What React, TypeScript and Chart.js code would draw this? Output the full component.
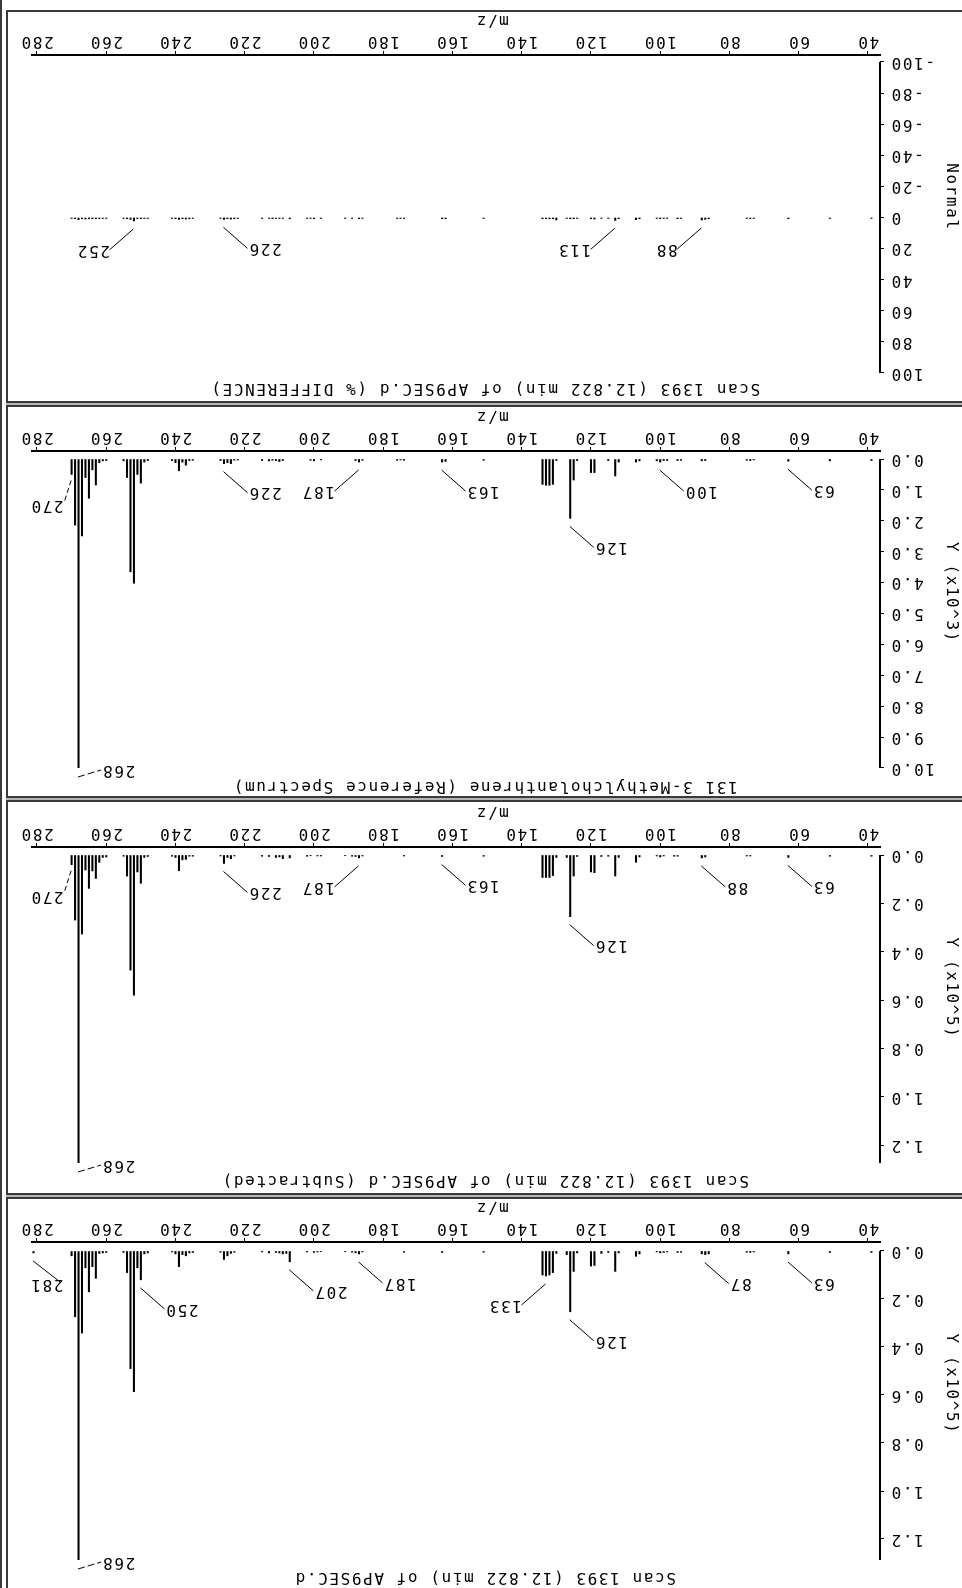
import React, { useEffect, useRef } from 'react';
import { Chart, registerables } from 'chart.js';

Chart.register(...registerables);

// ---------------- data ----------------
const xTicks = [40, 60, 80, 100, 120, 140, 160, 180, 200, 220, 240, 260, 280];
const X_MIN = 36.53;
const X_MAX = 281.44;

// Scan 1393 (raw)
const rawMz = [
  39, 51, 63, 73, 74, 75, 86, 87, 88, 94,
  95, 98, 99, 100, 101, 106, 107, 112, 113, 115,
  117, 119, 120, 124, 125, 126, 127, 130, 131, 132,
  133, 134, 151, 163, 174, 186, 187, 188, 189, 191,
  198, 199, 200, 202, 207, 208, 209, 210, 211, 213,
  215, 223, 224, 225, 226, 227, 235, 236, 237, 238,
  239, 240, 241, 248, 249, 250, 251, 252, 253, 254,
  255, 260, 261, 262, 263, 264, 265, 266, 267, 268,
  269, 270, 281,
];
const rawAb = [
  600, 600, 1200, 400, 600, 500, 1200, 1500, 1200, 500,
  600, 400, 600, 800, 400, 1200, 2200, 800, 8500, 600,
  1000, 6000, 6300, 800, 8500, 25300, 1500, 1000, 9000, 10000,
  10400, 10000, 500, 600, 500, 400, 1200, 800, 500, 300,
  300, 400, 600, 400, 4500, 1000, 1200, 800, 600, 800,
  400, 500, 1000, 2000, 3500, 500, 600, 800, 2000, 1500,
  6500, 1200, 400, 800, 1200, 12000, 7000, 58600, 49000, 9000,
  600, 600, 800, 1000, 11400, 6500, 17000, 7000, 34200, 128750,
  27400, 2000, 800,
];
const rawTicks = [0, 20000, 40000, 60000, 80000, 100000, 120000];
const rawLabels = [[63, 'L'], [87, 'L'], [126, 'L'], [133, 'R'], [187, 'L'], [207, 'L'], [250, 'L'], [268, 'B'], [281, 'E']];

// Subtracted
const subMz = [
  39, 51, 63, 74, 75, 87, 88, 95, 96, 99,
  100, 101, 106, 107, 112, 113, 115, 117, 119, 120,
  124, 125, 126, 127, 130, 131, 132, 133, 134, 151,
  163, 174, 186, 187, 188, 189, 191, 198, 199, 201,
  202, 207, 209, 210, 211, 213, 215, 223, 224, 225,
  226, 227, 235, 236, 237, 238, 239, 240, 241, 248,
  249, 250, 251, 252, 253, 254, 255, 260, 261, 262,
  263, 264, 265, 266, 267, 268, 269, 270,
];
const subAb = [
  500, 500, 1000, 400, 400, 800, 1200, 500, 500, 400,
  800, 400, 800, 3000, 1000, 8700, 500, 600, 7300, 7000,
  600, 8700, 25500, 1000, 1000, 8500, 9300, 9300, 9300, 500,
  600, 400, 400, 1200, 600, 500, 300, 400, 400, 300,
  500, 1200, 1500, 800, 1000, 600, 500, 400, 1500, 1000,
  3500, 400, 500, 500, 1800, 2000, 6500, 1000, 500, 600,
  1000, 11700, 7000, 58000, 47600, 8700, 500, 800, 1000, 3000,
  9700, 6600, 13800, 6200, 32700, 127400, 26900, 4000,
];
const subTicks = [0, 20000, 40000, 60000, 80000, 100000, 120000];
const subLabels = [[63, 'L'], [88, 'L'], [126, 'L'], [163, 'L'], [187, 'R'], [226, 'L'], [268, 'B'], [270, 'S']];

// Reference spectrum
const refMz = [
  39, 51, 63, 73, 74, 75, 87, 88, 94, 95,
  98, 99, 100, 101, 106, 107, 112, 113, 115, 119,
  120, 124, 125, 126, 130, 131, 132, 133, 134, 151,
  162, 163, 174, 175, 176, 186, 187, 188, 198, 200,
  201, 209, 210, 211, 212, 213, 215, 222, 223, 224,
  225, 226, 227, 235, 236, 237, 238, 239, 240, 241,
  248, 249, 250, 251, 252, 253, 254, 255, 260, 261,
  262, 263, 264, 265, 266, 267, 268, 269, 270,
];
const refAb = [
  50, 60, 70, 30, 50, 40, 50, 60, 40, 50,
  50, 50, 100, 60, 60, 100, 100, 550, 50, 440,
  440, 50, 680, 1920, 50, 820, 850, 850, 820, 40,
  80, 100, 40, 30, 40, 40, 100, 50, 30, 60,
  40, 50, 80, 50, 40, 60, 50, 30, 40, 150,
  120, 150, 50, 40, 50, 200, 100, 380, 120, 50,
  50, 100, 780, 500, 4020, 3650, 600, 60, 50, 60,
  120, 840, 350, 1270, 600, 2490, 9999, 2140, 500,
];
const refTicks = [0, 1000, 2000, 3000, 4000, 5000, 6000, 7000, 8000, 9000, 10000];
const refLabels = [[63, 'L'], [100, 'L'], [126, 'L'], [163, 'L'], [187, 'R'], [226, 'L'], [268, 'B'], [270, 'S']];

// % difference
const diffMz = [
  39, 51, 63, 73, 74, 75, 86, 87, 88, 94,
  95, 98, 99, 100, 101, 106, 107, 112, 113, 115,
  117, 119, 120, 124, 125, 126, 127, 130, 131, 132,
  133, 134, 151, 162, 163, 174, 175, 176, 186, 187,
  189, 191, 198, 200, 201, 202, 207, 209, 210, 211,
  212, 213, 215, 222, 223, 224, 225, 226, 227, 235,
  236, 237, 238, 239, 240, 241, 248, 249, 250, 251,
  252, 253, 254, 255, 260, 261, 262, 263, 264, 265,
  266, 267, 268, 269, 270,
];
const diffPct = [
  0.6, 0.6, 0.8, 0.6, 0.8, 0.6, 0.8, 1.2, 1.6, 0.6,
  0.8, 0.6, 0.6, 0.8, 0.6, 0.8, 1.4, 0.8, 1.8, 0.6,
  0.6, 1.0, 0.8, 0.6, 0.8, 0.8, 0.6, 1.6, 0.8, 0.8,
  0.8, 0.8, 0.6, 0.8, 0.8, 0.6, 0.6, 0.6, 0.6, 0.8,
  0.6, 0.6, 0.6, 0.8, 0.6, 0.6, 0.8, 0.6, 0.6, 0.6,
  0.8, 0.6, 0.6, 0.6, 0.8, 1.0, 0.8, 1.2, 0.6, 0.6,
  0.8, 1.0, 0.8, 1.2, 0.8, 0.6, 0.6, 0.6, 0.8, 0.8,
  2.2, 1.2, 0.8, 0.6, 0.6, 0.6, 0.8, 0.8, 0.8, 0.8,
  1.0, 0.8, 1.4, 0.8, 0.6,
];
const diffTicks = [-100, -80, -60, -40, -20, 0, 20, 40, 60, 80, 100];
const diffLabels = [[88, 'R'], [113, 'R'], [226, 'L'], [252, 'R']];

// ---------------- styling ----------------
const FAMILY = "'DejaVu Sans Mono', monospace";
const FSIZE = 16;
const FONT = `${FSIZE}px ${FAMILY}`;
const LS = '1.6px';
const BORDER = '#3a3a3a';
const GAP = '#b4b4b4';

const GEOM: Record<string, any> = {
  L: { gap: 8, dx: -24, dy: -21, align: 'right', tx: 0, ty: 0 },
  R: { gap: 8, dx: 24, dy: -21, align: 'left', tx: 0, ty: 0 },
  B: { gap: 9, dx: -23, dy: 7, align: 'right', tx: 0, ty: 0, dash: [7, 3] },
  S: { gap: 6, dx: 7, dy: -22, align: 'left', tx: 1, ty: -3, dash: [5, 3] },
  E: { gap: 8, dx: -27, dy: -21, align: 'left', tx: -3, ty: -2 },
};

const spacingPlugin = {
  id: 'hpSpacing',
  beforeUpdate(c: any) { c.ctx.letterSpacing = LS; },
  beforeLayout(c: any) { c.ctx.letterSpacing = LS; },
  beforeDraw(c: any) { c.ctx.letterSpacing = LS; },
};

const axisPlugin = {
  id: 'hpAxis',
  afterDraw(c: any, _a: any, opts: any) {
    const { ctx, chartArea: ca } = c;
    const y = c.scales.y;
    ctx.save();
    ctx.letterSpacing = LS;
    ctx.strokeStyle = '#000';
    ctx.lineWidth = 2;
    const y0 = y.getPixelForValue(y.ticks[0].value);
    ctx.beginPath();
    ctx.moveTo(ca.left, y0);
    ctx.lineTo(ca.left, ca.top);
    ctx.stroke();
    ctx.fillStyle = '#000';
    ctx.font = FONT;
    ctx.textAlign = 'center';
    ctx.textBaseline = 'alphabetic';
    ctx.fillText('m/z', (ca.left + ca.right) / 2 - 36, ca.bottom + 39);
    ctx.translate(11, (ca.top + ca.bottom) / 2 + 17);
    ctx.rotate(-Math.PI / 2);
    ctx.textBaseline = 'middle';
    ctx.fillText(opts.yTitle, 0, 0);
    ctx.restore();
  },
};

const labelPlugin = {
  id: 'hpLabels',
  afterDatasetsDraw(c: any, _a: any, opts: any) {
    const { ctx } = c;
    const xs = c.scales.x;
    const ys = c.scales.y;
    const pts = c.data.datasets[0].data;
    ctx.save();
    ctx.letterSpacing = LS;
    ctx.font = FONT;
    ctx.fillStyle = '#000';
    ctx.strokeStyle = '#000';
    ctx.lineWidth = 1;
    for (const [mz, kind] of opts.items) {
      const pt = pts.find((d: any) => d.x === mz);
      const v = pt ? Math.max(pt.y, 0) : 0;
      const g = GEOM[kind];
      const sx = xs.getPixelForValue(mz);
      const sy = ys.getPixelForValue(v) - g.gap;
      const ex = sx + g.dx;
      const ey = sy + g.dy;
      ctx.setLineDash(g.dash || []);
      ctx.beginPath();
      ctx.moveTo(sx + 0.5, sy);
      ctx.lineTo(ex + 0.5, ey);
      ctx.stroke();
      ctx.setLineDash([]);
      ctx.textAlign = g.align;
      ctx.textBaseline = 'middle';
      ctx.fillText(String(mz), ex + g.tx, ey + g.ty);
    }
    ctx.restore();
  },
};

type PanelDef = {
  title: string;
  yTitle: string;
  mz: number[];
  ab: number[];
  yMin: number;
  yMax: number;
  yTicks: number[];
  fmt: (v: number) => string;
  labels: any[];
  canvasTop: number;
  canvasH: number;
  axisY: number;
  titlePad: { top: number; bottom: number };
};

const font = { family: FAMILY, size: FSIZE, weight: 'normal' as const, lineHeight: 1.2 };

function buildConfig(p: PanelDef): any {
  const n = Math.min(p.mz.length, p.ab.length);
  const pts = [];
  for (let i = 0; i < n; i++) pts.push({ x: p.mz[i], y: p.ab[i] });
  return {
    type: 'bar',
    data: {
      datasets: [{
        data: pts,
        backgroundColor: '#000',
        borderWidth: 0,
        barThickness: 1.4,
      }],
    },
    options: {
      responsive: false,
      animation: false,
      events: [],
      layout: { padding: { left: 24, right: 24, top: 0, bottom: 0 } },
      plugins: {
        legend: { display: false },
        tooltip: { enabled: false },
        title: {
          display: true,
          text: p.title,
          color: '#000',
          font,
          padding: p.titlePad,
        },
        hpAxis: { yTitle: p.yTitle },
        hpLabels: { items: p.labels },
      },
      scales: {
        x: {
          type: 'linear',
          min: X_MIN,
          max: X_MAX,
          offset: false,
          afterBuildTicks: (s: any) => { s.ticks = xTicks.map((v) => ({ value: v })); },
          afterFit: (s: any) => { s.height = p.canvasH - p.axisY; },
          grid: { display: true, drawOnChartArea: false, drawTicks: true, tickLength: 4, color: '#000', lineWidth: 1, offset: false },
          border: { display: true, color: '#000', width: 2 },
          ticks: { color: '#000', font, padding: 0, maxRotation: 0, autoSkip: false, callback: (v: number) => String(v) },
        },
        y: {
          type: 'linear',
          min: p.yMin,
          max: p.yMax,
          afterBuildTicks: (s: any) => { s.ticks = p.yTicks.map((v) => ({ value: v })); },
          afterFit: (s: any) => { s.width = 58; },
          grid: { display: true, drawOnChartArea: false, drawTicks: true, tickLength: 4, color: '#000', lineWidth: 1 },
          border: { display: false },
          ticks: { color: '#000', font, padding: 6, autoSkip: false, callback: (v: number) => p.fmt(v) },
        },
      },
    },
    plugins: [spacingPlugin, axisPlugin, labelPlugin],
  };
}

const PANELS: PanelDef[] = [
  {
    title: 'Scan 1393 (12.822 min) of AP9SEC.d',
    yTitle: 'Y (x10^5)',
    mz: rawMz, ab: rawAb,
    yMin: -3750, yMax: 128750, yTicks: rawTicks,
    fmt: (v) => (v / 1e5).toFixed(1),
    labels: rawLabels,
    canvasTop: 0, canvasH: 389, axisY: 346,
    titlePad: { top: 1, bottom: 7.8 },
  },
  {
    title: 'Scan 1393 (12.822 min) of AP9SEC.d (Subtracted)',
    yTitle: 'Y (x10^5)',
    mz: subMz, ab: subAb,
    yMin: -3310, yMax: 127400, yTicks: subTicks,
    fmt: (v) => (v / 1e5).toFixed(1),
    labels: subLabels,
    canvasTop: 395, canvasH: 391, axisY: 346,
    titlePad: { top: 3, bottom: 7.8 },
  },
  {
    title: '131 3-Methylcholanthrene (Reference Spectrum)',
    yTitle: 'Y (x10^3)',
    mz: refMz, ab: refAb,
    yMin: -259, yMax: 10000, yTicks: refTicks,
    fmt: (v) => (v / 1e3).toFixed(1),
    labels: refLabels,
    canvasTop: 792, canvasH: 389, axisY: 345,
    titlePad: { top: 0, bottom: 8.8 },
  },
  {
    title: 'Scan 1393 (12.822 min) of AP9SEC.d (% DIFFERENCE)',
    yTitle: 'Normal',
    mz: diffMz, ab: diffPct,
    yMin: -104.5, yMax: 100, yTicks: diffTicks,
    fmt: (v) => String(v),
    labels: diffLabels,
    canvasTop: 1187, canvasH: 389, axisY: 346,
    titlePad: { top: 3, bottom: 5.8 },
  },
];

function Panel({ p }: { p: PanelDef }) {
  const ref = useRef<HTMLCanvasElement | null>(null);
  useEffect(() => {
    if (!ref.current) return;
    const chart = new Chart(ref.current, buildConfig(p));
    return () => chart.destroy();
  }, [p]);
  return (
    <canvas
      ref={ref}
      width={954}
      height={p.canvasH}
      style={{ position: 'absolute', left: 0, top: p.canvasTop, width: 954, height: p.canvasH, display: 'block' }}
    />
  );
}

const BOXES = [
  { top: -4, height: 395 },
  { top: 393, height: 395 },
  { top: 790, height: 393 },
  { top: 1185, height: 393 },
];
const STRIPS = [391, 788, 1183];

export default function App() {
  return (
    <div
      style={{
        position: 'absolute', left: 0, top: 0, width: 962, height: 1588,
        background: '#fff', overflow: 'hidden', transform: 'rotate(180deg)',
      }}
    >
      {BOXES.map((b, i) => (
        <div
          key={'b' + i}
          style={{
            position: 'absolute', left: -4, top: b.top, width: 960, height: b.height,
            boxSizing: 'border-box', border: `2px solid ${BORDER}`,
          }}
        />
      ))}
      {STRIPS.map((t, i) => (
        <div key={'s' + i} style={{ position: 'absolute', left: -4, top: t, width: 960, height: 2, background: GAP }} />
      ))}
      <div style={{ position: 'absolute', left: 960, top: 0, width: 2, height: 1588, background: BORDER }} />
      {PANELS.map((p, i) => (
        <Panel key={i} p={p} />
      ))}
    </div>
  );
}
